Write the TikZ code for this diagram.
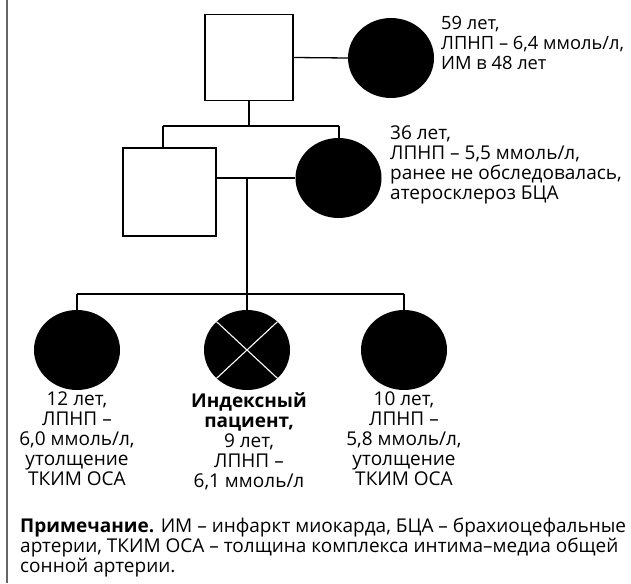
\documentclass[tikz,border=0pt]{standalone}
\usepackage{fontspec}
\setmainfont{Open Sans}
\usetikzlibrary{shapes.geometric}
\begin{document}
\begin{tikzpicture}[x=1pt,y=-1pt,
  sqbox/.style={draw, line width=1.3pt, minimum width=88pt, minimum height=86pt, inner sep=0pt},
  fem/.style={ellipse, fill=black, minimum width=86pt, minimum height=80pt, inner sep=0pt},
  ln/.style={line width=1.3pt},
  txt/.style={align=left, inner sep=0pt, font=\fontsize{19}{20}\selectfont},
  lbl/.style={align=center, inner sep=0pt, font=\fontsize{19}{20}\selectfont},
  border/.style={draw=black!60, line width=2pt}]
\useasboundingbox (0,0) rectangle (631,583);
\fill[white] (0,0) rectangle (631,583);
\draw[border] (7,0) -- (7,583);
% pedigree nodes
\node[sqbox] (gf) at (249,57.5) {};
\node[fem] (gm) at (391,58) {};
\node[sqbox, minimum width=93pt, minimum height=88pt] (fa) at (169.5,192) {};
\node[fem] (mo) at (338.5,178) {};
\node[fem] (s1) at (77,350) {};
\node[fem] (pr) at (247,350) {};
\node[fem] (s2) at (404,350) {};
\draw[white, line width=1.1pt] (pr.north west) -- (pr.south east) (pr.north east) -- (pr.south west);
% connectors
\coordinate (b1) at (249,126);
\coordinate (b1l) at (163,126);
\coordinate (b1r) at (339,126);
\coordinate (b2t) at (247,178);
\coordinate (b2) at (247,294);
\coordinate (b2l) at (77,294);
\coordinate (b2r) at (404,294);
\draw[ln] (gf.east) -- (gm.west);
\draw[ln] (gf.south) -- (b1);
\draw[ln] (b1l) -- (b1r);
\draw[ln] (b1l) -- (b1l |- fa.north);
\draw[ln] (b1r) -- (b1r |- mo.north);
\draw[ln] (mo.west) -- (mo.west -| fa.east);
\draw[ln] (b2t) -- (b2);
\draw[ln] (b2l) -- (b2r);
\draw[ln] (b2l) -- (s1.north);
\draw[ln] (b2) -- (pr.north);
\draw[ln] (b2r) -- (s2.north);
% texts
\node[txt, anchor=north west, font=\fontsize{18.3}{20}\selectfont] (t1) at (441,16) {59 лет,\\ЛПНП – 6,4 ммоль/л,\\ИМ в 48 лет};
\node[txt, anchor=north west] (t2) at (390,126) {36 лет,\\ЛПНП – 5,5 ммоль/л,\\ранее не обследовалась,\\атеросклероз БЦА};
\node[lbl, anchor=north] (l1) at (77,392) {12 лет,\\ЛПНП –\\6,0 ммоль/л,\\утолщение\\ТКИМ ОСА};
\node[lbl, anchor=north] (l2) at (249,392) {\textbf{Индексный}\\\textbf{пациент,}\\9 лет,\\ЛПНП –\\6,1 ммоль/л};
\node[lbl, anchor=north] (l3) at (404,392) {10 лет,\\ЛПНП –\\5,8 ммоль/л,\\утолщение\\ТКИМ ОСА};
\node[txt, anchor=north west] (note) at (20,518) {\textbf{Примечание.} ИМ – инфаркт миокарда, БЦА – брахиоцефальные\\артерии, ТКИМ ОСА – толщина комплекса интима–медиа общей\\сонной артерии.};
\end{tikzpicture}
\end{document}
